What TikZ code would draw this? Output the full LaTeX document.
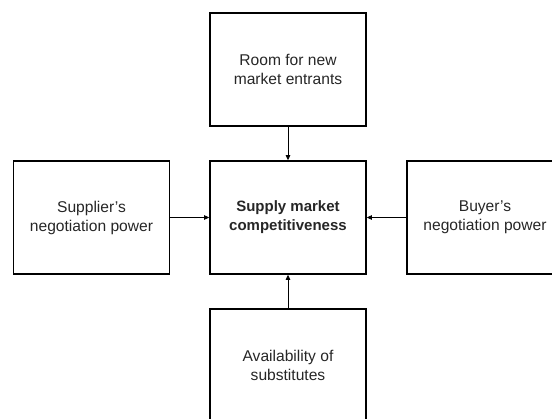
\documentclass[tikz,border=0pt]{standalone}
\usepackage{fontspec}
\setmainfont{Liberation Sans}
\usetikzlibrary{arrows.meta}
\begin{document}
\begin{tikzpicture}[x=1pt,y=1pt,
  force/.style={draw=black, line width=1.6pt, rectangle, minimum width=156pt,
    minimum height=113pt, inner sep=0pt, align=center, text=black!85,
    font=\fontsize{15.6pt}{19pt}\selectfont},
  core/.style={force, font=\fontsize{15pt}{19pt}\selectfont\bfseries},
  link/.style={line width=0.8pt, -{Triangle[length=5pt,width=4.5pt]}}]
\useasboundingbox (0,0) rectangle (552,-419);
\clip (0,0) rectangle (552,-419);
\node[core]  (center) at (288,-217.5) {Supply market\\competitiveness};
\node[force] (entry)  at (288,-69.5)  {Room for new\\market entrants};
\node[force] (supp)   at (91.5,-217.5) {Supplier’s\\negotiation power};
\node[force] (buyer)  at (485,-217.5) {Buyer’s\\negotiation power};
\node[force] (subst)  at (288,-365.5) {Availability of\\substitutes};
\draw[link] (entry.south) -- (center.north);
\draw[link] (supp.east)   -- (center.west);
\draw[link] (buyer.west)  -- (center.east);
\draw[link] (subst.north) -- (center.south);
\end{tikzpicture}
\end{document}
